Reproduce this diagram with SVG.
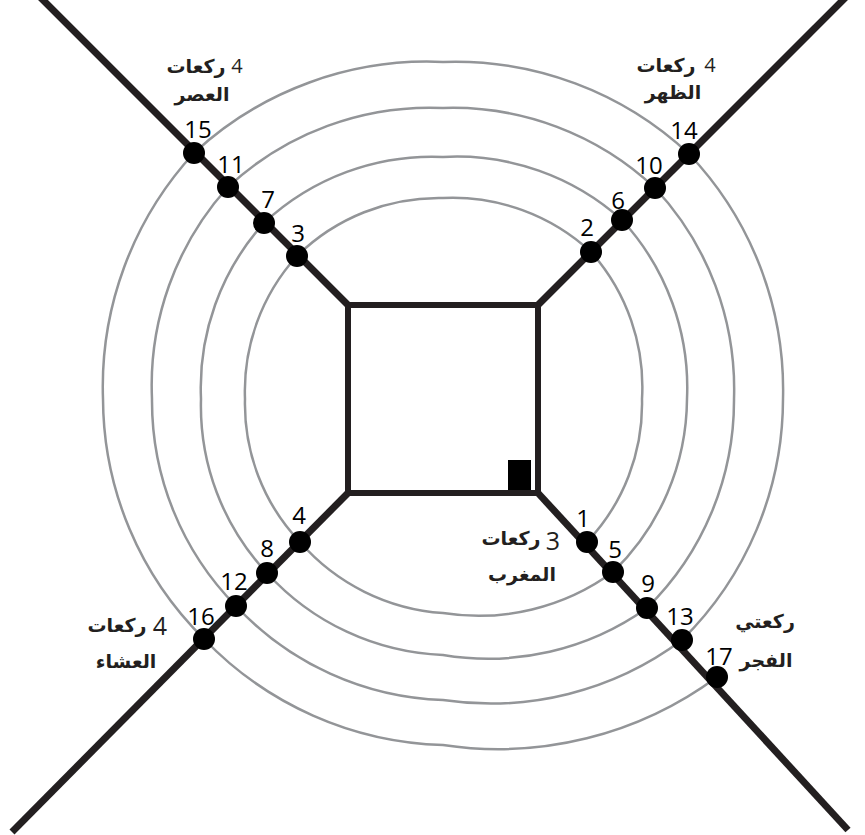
<svg xmlns="http://www.w3.org/2000/svg" width="865" height="835" viewBox="0 0 865 835">
<style>
.spiral{fill:none;stroke:#939598;stroke-width:2.5}
.axis{fill:none;stroke:#231f20;stroke-width:7;stroke-linecap:butt}
.box{fill:#fff;stroke:#231f20;stroke-width:6}
.dot{fill:#000}
.num{font-family:"Open Sans","Liberation Sans",sans-serif;font-size:24px;fill:#000;text-anchor:middle}
.ar{font-family:"DejaVu Sans",sans-serif;font-weight:bold;font-size:19px;fill:#231f20;text-anchor:middle}
.an{font-family:"Open Sans","Liberation Sans",sans-serif;fill:#231f20;text-anchor:middle}
</style>
<rect width="865" height="835" fill="#fff"/>
<g id="connectors">
<path class="spiral" d="M587,542 A201,201 0 0 0 642,399 A203,203 0 0 0 591,252 A204,204 0 0 0 443,198 A202,202 0 0 0 297,256 A201,201 0 0 0 245,399 A200,200 0 0 0 300,542 A208,208 0 0 0 443,613 A228,228 0 0 0 613,572 A243,243 0 0 0 687,399 A248,248 0 0 0 622,220 A247,247 0 0 0 443,157 A246,246 0 0 0 264,223 A246,246 0 0 0 201,399 A244,244 0 0 0 267,573 A251,251 0 0 0 443,655 A274,274 0 0 0 647,608 A291,291 0 0 0 734,399 A295,295 0 0 0 655,188 A295,295 0 0 0 443,108 A296,296 0 0 0 228,187 A296,296 0 0 0 152,399 A292,292 0 0 0 236,606 A297,297 0 0 0 443,700 A320,320 0 0 0 682,640 A339,339 0 0 0 783,399 A343,343 0 0 0 689,154 A342,342 0 0 0 443,62 A343,343 0 0 0 194,153 A345,345 0 0 0 103,399 A339,339 0 0 0 204,639 A344,344 0 0 0 443,745 A368,368 0 0 0 717,677"/>
<line class="axis" x1="348" y1="305" x2="40" y2="-3"/>
<line class="axis" x1="538" y1="305" x2="846" y2="-3"/>
<line class="axis" x1="538" y1="493" x2="848" y2="830"/>
<line class="axis" x1="348" y1="493" x2="12" y2="832"/>
</g>
<g id="kaaba">
<rect class="box" x="348" y="305" width="190" height="188"/>
<rect x="508" y="460" width="23" height="30" fill="#000"/>
</g>
<g id="dots">
<g id="p1"><circle class="dot" cx="587" cy="542" r="11"/><text class="num" x="583" y="527">1</text></g>
<g id="p2"><circle class="dot" cx="591" cy="252" r="11"/><text class="num" x="587" y="236">2</text></g>
<g id="p3"><circle class="dot" cx="297" cy="256" r="11"/><text class="num" x="298" y="242">3</text></g>
<g id="p4"><circle class="dot" cx="300" cy="542" r="11"/><text class="num" x="299" y="524">4</text></g>
<g id="p5"><circle class="dot" cx="613" cy="572" r="11"/><text class="num" x="615" y="558">5</text></g>
<g id="p6"><circle class="dot" cx="622" cy="220" r="11"/><text class="num" x="618" y="209">6</text></g>
<g id="p7"><circle class="dot" cx="264" cy="223" r="11"/><text class="num" x="268" y="208">7</text></g>
<g id="p8"><circle class="dot" cx="267" cy="573" r="11"/><text class="num" x="267" y="557">8</text></g>
<g id="p9"><circle class="dot" cx="647" cy="608" r="11"/><text class="num" x="648" y="592">9</text></g>
<g id="p10"><circle class="dot" cx="655" cy="188" r="11"/><text class="num" x="649" y="174">10</text></g>
<g id="p11"><circle class="dot" cx="228" cy="187" r="11"/><text class="num" x="231" y="173">11</text></g>
<g id="p12"><circle class="dot" cx="236" cy="606" r="11"/><text class="num" x="234" y="590">12</text></g>
<g id="p13"><circle class="dot" cx="682" cy="640" r="11"/><text class="num" x="680" y="625">13</text></g>
<g id="p14"><circle class="dot" cx="689" cy="154" r="11"/><text class="num" x="684" y="139">14</text></g>
<g id="p15"><circle class="dot" cx="194" cy="153" r="11"/><text class="num" x="198" y="138">15</text></g>
<g id="p16"><circle class="dot" cx="204" cy="639" r="11"/><text class="num" x="201" y="625">16</text></g>
<g id="p17"><circle class="dot" cx="717" cy="677" r="11"/><text class="num" x="719" y="665">17</text></g>
</g>
<g id="label-asr">
<text class="ar" x="196" y="73">ركعات</text><text class="an" x="237" y="73" font-size="20">4</text>
<text class="ar" x="202" y="101">العصر</text>
</g>
<g id="label-dhuhr">
<text class="ar" x="666" y="72">ركعات</text><text class="an" x="710" y="72" font-size="20">4</text>
<text class="ar" x="673" y="99">الظهر</text>
</g>
<g id="label-isha">
<text class="ar" x="117" y="632">ركعات</text><text class="an" x="160" y="635" font-size="25">4</text>
<text class="ar" x="126" y="668">العشاء</text>
</g>
<g id="label-maghrib">
<text class="ar" x="511" y="545">ركعات</text><text class="an" x="553" y="550" font-size="25">3</text>
<text class="ar" x="522" y="581">المغرب</text>
</g>
<g id="label-fajr">
<text class="ar" x="765" y="628">ركعتي</text>
<text class="ar" x="766" y="667">الفجر</text>
</g>
</svg>
